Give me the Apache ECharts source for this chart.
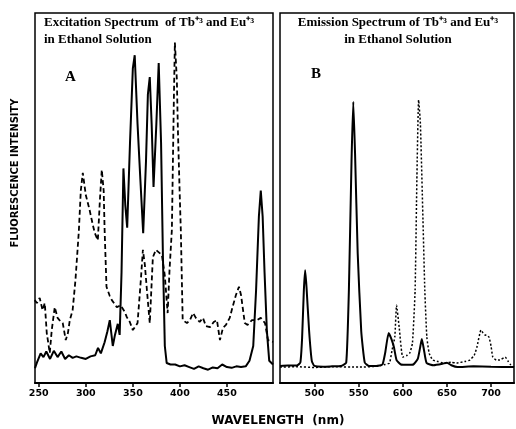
<!DOCTYPE html>
<html>
<head>
<meta charset="utf-8">
<script src="https://cdn.jsdelivr.net/npm/echarts@6/dist/echarts.min.js"></script>
<style>
html, body { margin: 0; padding: 0; background: #fff; }
#chart { width: 516px; height: 429px; }
</style>
</head>
<body>
<div id="chart"></div>
<script>
// panel A: excitation spectra (wavelength nm, relative intensity)
var excTbWl  = [246, 248, 252, 255, 258, 262, 266, 270, 274, 278, 282, 286, 290, 295, 300, 305, 310, 313, 316, 320, 323, 325.5, 328.7, 331, 334, 336, 338, 340, 342, 344, 347, 350, 352, 355, 358, 361, 364, 366, 368, 370, 372, 375, 377.5, 380, 382, 384, 386, 390, 395, 400, 405, 410, 415, 420, 425, 430, 435, 440, 445, 450, 455, 460, 465, 470, 474, 478, 481, 484, 486, 488, 490, 492.5, 495, 499];
var excTbVal = [4, 5.5, 8, 7, 8.5, 6.5, 8.7, 7, 8.5, 6.5, 7.5, 6.8, 7.2, 6.8, 6.5, 7.2, 7.5, 9.5, 8, 11, 14, 17, 10, 13, 16, 13, 30, 58, 48, 42, 65, 85, 88.6, 70, 55, 40.5, 60, 78, 82.7, 70, 53, 70, 86.5, 65, 34, 10, 5.4, 5, 5, 4.5, 4.8, 4.3, 3.8, 4.5, 4, 3.6, 4.2, 4, 5, 4.3, 4.1, 4.5, 4.3, 4.5, 6, 10, 25, 45, 52, 45, 30, 14, 6, 5];
var excEuWl  = [245.7, 248, 251, 254, 256.4, 258.5, 261.7, 263.8, 267, 270, 272, 275.5, 278.7, 281, 283, 286, 289, 292.6, 294.7, 296.8, 300, 304, 307.5, 309.6, 312.8, 315, 317, 319, 320, 322, 325.5, 327.7, 333, 337, 341.5, 343.6, 346.8, 350, 355, 358.5, 360.7, 362.8, 365, 368, 371.3, 374.5, 376.6, 380.9, 384, 387, 389, 391.5, 393.6, 394.7, 396.8, 397.9, 400, 401, 403, 407.5, 410.7, 414, 417, 421, 424.5, 427.7, 432, 436, 439.4, 442.6, 445.8, 449, 453, 456, 459.6, 462.8, 465, 469, 472, 476.6, 482, 486, 490.5, 493.7, 499];
var excEuVal = [22.4, 21.6, 23, 19.7, 21.6, 13.5, 8.1, 14.3, 20.5, 17.6, 17, 16.2, 11.6, 13.5, 17, 19.7, 27.8, 41, 52, 56.8, 50.8, 46.8, 42.7, 40.5, 38.6, 49.5, 57.6, 52, 41.4, 26, 23.5, 22.4, 20.5, 21, 19.2, 17.8, 16.5, 14.3, 16.2, 27.8, 36, 31.9, 25, 16.2, 34, 36, 36.5, 34.6, 29, 18.9, 30.5, 41.4, 76.5, 92, 82, 68.4, 49.5, 41.4, 17, 16.2, 17, 18.9, 17.6, 16.5, 17.6, 15.4, 15.1, 16.5, 17, 11.6, 14.9, 15.7, 17.6, 20.5, 23.8, 26, 23.8, 16.2, 15.7, 17, 17, 17.6, 16.2, 11.6, 11.1];

// panel B: emission spectra
var emTbWl  = [461, 470, 480, 484, 486, 488, 489.5, 491, 494, 497, 500, 510, 520, 530, 536, 539, 542, 544, 546, 549, 553, 557, 562, 570, 577, 580, 584, 587, 590, 593, 598, 605, 612, 617, 620, 621.6, 624, 627, 635, 645, 650, 655, 662, 680, 700, 726];
var emTbVal = [4.6, 4.7, 4.7, 5.5, 12, 25, 30.5, 26, 14, 6, 4.6, 4.4, 4.5, 4.6, 5.5, 25, 60, 76, 62, 35, 14, 5.5, 4.6, 4.6, 5, 8, 13.5, 12, 9.7, 6.2, 5, 4.9, 5, 6.5, 10, 11.9, 9, 5.4, 4.8, 5.2, 5.5, 4.8, 4.3, 4.5, 4.4, 4.3];
var emEuWl  = [461, 480, 500, 520, 550, 570, 580, 585, 588, 591, 593, 596, 600, 605, 608, 611, 614, 616, 618, 620, 622.7, 625, 627.3, 630, 634, 640, 645.5, 655, 661, 670, 676, 681, 684, 688.6, 691, 693, 695.5, 697.7, 700, 702, 706, 710, 716, 719, 722, 726];
var emEuVal = [4.3, 4.4, 4.2, 4.4, 4.3, 4.5, 5, 5.4, 9, 12.4, 21, 15, 7, 7.5, 8.1, 10.8, 25, 55, 76.5, 70, 46, 25, 12.4, 8, 6.2, 5.8, 5.4, 5.6, 5.4, 5.8, 6.2, 7.5, 9.7, 14.3, 13.5, 13, 12.8, 12.4, 10, 7, 6.2, 6.2, 7, 6, 5, 4.3];

var ticksA = [250, 300, 350, 400, 450];
var ticksB = [500, 550, 600, 650, 700];

var pairs = function (xs, ys) {
    var data = [];
    for (var i = 0; i < xs.length; i++) {
        data.push([xs[i], ys[i]]);
    }
    return data;
};

var makeX = function (idx, min, max, ticks) {
    return {
        type: 'value',
        gridIndex: idx,
        min: min,
        max: max,
        axisLine: { lineStyle: { color: '#000', width: 2 } },
        axisTick: { customValues: ticks, length: 4, lineStyle: { color: '#000', width: 1.5 } },
        axisLabel: {
            customValues: ticks,
            color: '#000',
            fontFamily: 'DejaVu Sans',
            fontWeight: 'bold',
            fontSize: 9.5,
            margin: 6
        },
        splitLine: { show: false }
    };
};

var makeY = function (idx) {
    return {
        type: 'value',
        gridIndex: idx,
        min: 0,
        max: 100,
        axisLine: { show: false },
        axisTick: { show: false },
        axisLabel: { show: false },
        splitLine: { show: false }
    };
};

var titleFont = {
    fontFamily: 'Liberation Serif',
    fontWeight: 'bold',
    fontSize: 13,
    color: '#000',
    lineHeight: 17
};

var letterFont = { fontFamily: 'Liberation Serif', fontWeight: 'bold', fontSize: 15, color: '#000' };

var myChart = echarts.init(document.getElementById('chart'), null, { renderer: 'canvas' });
var option = {
    backgroundColor: '#fff',
    animation: false,
    title: [
        { text: 'Excitation Spectrum  of Tb⁺³ and Eu⁺³\nin Ethanol Solution', left: 44, top: 14, padding: 0, textStyle: titleFont },
        { text: 'Emission Spectrum of Tb⁺³ and Eu⁺³\nin Ethanol Solution', left: 398, textAlign: 'center', top: 14, padding: 0, textStyle: titleFont },
        { text: 'A', left: 65, top: 70, padding: 0, textStyle: letterFont },
        { text: 'B', left: 311, top: 67, padding: 0, textStyle: letterFont }
    ],
    graphic: [
        {
            type: 'text',
            x: 15,
            y: 173,
            rotation: Math.PI / 2,
            style: {
                text: 'FLUORESCENCE INTENSITY',
                fill: '#000',
                font: 'bold 11px "DejaVu Sans Condensed", "DejaVu Sans"',
                align: 'center',
                verticalAlign: 'middle'
            }
        },
        {
            type: 'text',
            x: 278,
            y: 421,
            style: {
                text: 'WAVELENGTH  (nm)',
                fill: '#000',
                font: 'bold 12px "DejaVu Sans"',
                align: 'center',
                verticalAlign: 'middle'
            }
        }
    ],
    grid: [
        { left: 35, top: 13, width: 238, height: 370, show: true, borderColor: '#000', borderWidth: 1.5 },
        { left: 280, top: 13, width: 234, height: 370, show: true, borderColor: '#000', borderWidth: 1.5 }
    ],
    xAxis: [makeX(0, 246, 499, ticksA), makeX(1, 461, 726, ticksB)],
    yAxis: [makeY(0), makeY(1)],
    series: [
        {
            name: 'Tb excitation', type: 'line', xAxisIndex: 0, yAxisIndex: 0,
            data: pairs(excTbWl, excTbVal), showSymbol: false,
            lineStyle: { color: '#000', width: 2 }
        },
        {
            name: 'Eu excitation', type: 'line', xAxisIndex: 0, yAxisIndex: 0,
            data: pairs(excEuWl, excEuVal), showSymbol: false,
            lineStyle: { color: '#000', width: 1.8, type: [5, 3] }
        },
        {
            name: 'Tb emission', type: 'line', xAxisIndex: 1, yAxisIndex: 1,
            data: pairs(emTbWl, emTbVal), showSymbol: false, smooth: 0.15,
            lineStyle: { color: '#000', width: 2 }
        },
        {
            name: 'Eu emission', type: 'line', xAxisIndex: 1, yAxisIndex: 1,
            data: pairs(emEuWl, emEuVal), showSymbol: false, smooth: 0.15,
            lineStyle: { color: '#000', width: 1.5, type: [2, 2] }
        }
    ]
};
option && myChart.setOption(option);
window.onresize = function () {
    myChart.resize();
};
</script>
</body>
</html>
